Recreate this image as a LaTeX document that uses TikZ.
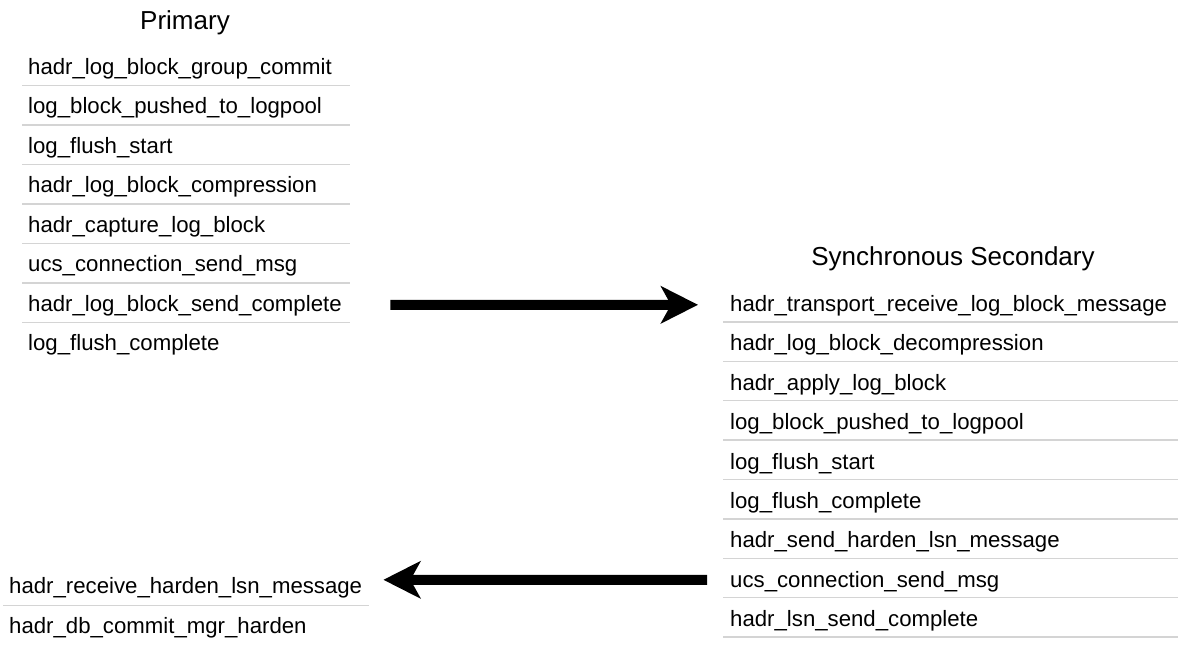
\documentclass[tikz,border=0pt]{standalone}
\usepackage{fontspec}
\setmainfont{Liberation Sans}
\usetikzlibrary{arrows.meta,calc}
\definecolor{sepgray}{RGB}{212,212,212}
\begin{document}
\begin{tikzpicture}[x=1pt,y=-1pt,
  rowbox/.style={draw=none,inner sep=0pt,anchor=south west,minimum height=#1},
  itemtext/.style={font=\fontsize{22.2}{26}\selectfont,inner sep=0pt,anchor=base west,text=black},
  titletext/.style={font=\fontsize{26}{30}\selectfont,inner sep=0pt,anchor=base,text=black},
  sepline/.style={draw=sepgray,line width=1.3pt},
  bigarrow/.style={line width=10pt,-{Stealth[length=37pt,width=37pt,inset=10pt]}}]
\useasboundingbox (0,0) rectangle (1196,648);
\fill[white] (0,0) rectangle (1196,648);

% titles
\node[titletext] (ptitle) at (185,29.5) {Primary};
\node[titletext] (stitle) at (953,265) {Synchronous Secondary};

% Primary rows
\foreach \t [count=\i] in {hadr\_log\_block\_group\_commit,log\_block\_pushed\_to\_logpool,log\_flush\_start,hadr\_log\_block\_compression,hadr\_capture\_log\_block,ucs\_connection\_send\_msg,hadr\_log\_block\_send\_complete,log\_flush\_complete}{
  \node[rowbox=39.5pt,minimum width=328pt] (p\i) at (22,{85.5+39.5*(\i-1)}) {};
  \node[itemtext] (pt\i) at ($(p\i.south west)+(6,-11.5)$) {\t};
}
\foreach \i in {1,...,7}{\draw[sepline] (p\i.south west) -- (p\i.south east);}

% Secondary rows
\foreach \t [count=\i] in {hadr\_transport\_receive\_log\_block\_message,hadr\_log\_block\_decompression,hadr\_apply\_log\_block,log\_block\_pushed\_to\_logpool,log\_flush\_start,log\_flush\_complete,hadr\_send\_harden\_lsn\_message,ucs\_connection\_send\_msg,hadr\_lsn\_send\_complete}{
  \node[rowbox=39.375pt,minimum width=455pt] (s\i) at (723,{322+39.375*(\i-1)}) {};
  \node[itemtext] (st\i) at ($(s\i.south west)+(7,-10.5)$) {\t};
  \draw[sepline] (s\i.south west) -- (s\i.south east);
}

% Primary (return) rows
\node[rowbox=39.5pt,minimum width=366pt] (r1) at (3,605.5) {};
\node[itemtext] (rt1) at ($(r1.south west)+(6,-12.5)$) {hadr\_receive\_harden\_lsn\_message};
\draw[sepline] (r1.south west) -- (r1.south east);
\node[rowbox=39.5pt,minimum width=366pt] (r2) at (3,645) {};
\node[itemtext] (rt2) at ($(r2.south west)+(6,-12)$) {hadr\_db\_commit\_mgr\_harden};

% arrows
\draw[bigarrow] ([xshift=40pt,yshift=-2.25pt]p7.east) -- ([xshift=-25pt,yshift=-2.7pt]s1.west);
\draw[bigarrow] ([xshift=-16pt,yshift=-2.1pt]s8.west) -- ([xshift=14pt,yshift=5.75pt]r1.east);
\end{tikzpicture}
\end{document}
